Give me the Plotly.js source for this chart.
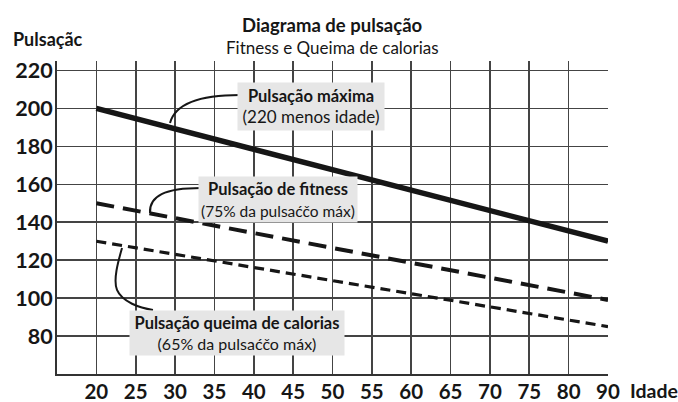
<!DOCTYPE html>
<html>
<head>
<meta charset="utf-8">
<script src="https://cdn.plot.ly/plotly-3.0.1.min.js"></script>
<style>
  html, body { margin: 0; padding: 0; background: #fff; }
  #chart { width: 678px; height: 402px; }
</style>
</head>
<body>
<div id="chart"></div>
<script>
// Age categories on the x axis (the last step jumps from 80 to 90)
const ages = ['20', '25', '30', '35', '40', '45', '50', '55', '60', '65', '70', '75', '80', '90'];
const pulseTicks = [80, 100, 120, 140, 160, 180, 200, 220];

// Each line runs from age 20 to age 90
const lineAges = ['20', '90'];
const maxPulse = [200, 130];
const fitnessPulse = [150, 99];
const burnPulse = [130, 85];

const INK = '#161616';
const FONT = 'Lato, "DejaVu Sans", sans-serif';

// plot box in pixels, used to place callouts and labels
const X0 = 57, X1 = 608, Y0 = 61, Y1 = 374;
const px = x => ((x - X0) / (X1 - X0)).toFixed(4);
const py = y => ((Y1 - y) / (Y1 - Y0)).toFixed(4);
const pt = (x, y) => `${px(x)},${py(y)}`;

const traces = [
    {
        type: 'scatter', mode: 'lines',
        x: lineAges, y: maxPulse,
        line: { color: INK, width: 5.5 },
        hoverinfo: 'skip'
    },
    {
        type: 'scatter', mode: 'lines',
        x: lineAges, y: fitnessPulse,
        line: { color: INK, width: 4, dash: '18px,9px' },
        hoverinfo: 'skip'
    },
    {
        type: 'scatter', mode: 'lines',
        x: lineAges, y: burnPulse,
        line: { color: INK, width: 3.2, dash: '10px,6px' },
        hoverinfo: 'skip'
    }
];

// curved leader lines from each line to its label box
const callout = path => ({
    type: 'path', xref: 'paper', yref: 'paper', path,
    line: { color: INK, width: 2 }
});

const shapes = [
    callout(`M ${pt(170, 123)} C ${pt(175, 104)} ${pt(200, 95)} ${pt(240, 95)}`),
    callout(`M ${pt(150, 213)} C ${pt(149, 196)} ${pt(165, 188)} ${pt(201, 188)}`),
    callout(`M ${pt(122, 248)} C ${pt(118, 262)} ${pt(113, 280)} ${pt(117, 290)} C ${pt(122, 302)} ${pt(140, 308)} ${pt(153, 310)}`)
];

const box = (cx, cy, w, h, head, sub, subSize) => ({
    xref: 'paper', yref: 'paper',
    x: px(cx), y: py(cy), xanchor: 'center', yanchor: 'middle',
    width: w, height: h, align: 'center', valign: 'middle',
    bgcolor: '#e6e6e6', borderpad: 0, showarrow: false,
    text: `<b>${head}</b><br><span style="font-size:${subSize}px">${sub}</span>`,
    font: { family: FONT, size: 16.5, color: INK }
});

const annotations = [
    box(311, 106, 146, 47, 'Pulsação máxima', '(220 menos idade)', 17),
    box(278, 199.5, 158, 45, 'Pulsação de fitness', '(75% da pulsaćčo máx)', 15.5),
    box(237, 333, 214, 44, 'Pulsação queima de calorias', '(65% da pulsaćčo máx)', 16),
    {
        xref: 'paper', yref: 'paper', x: px(332), y: py(25),
        xanchor: 'center', yanchor: 'middle', showarrow: false,
        text: '<b>Diagrama de pulsação</b>',
        font: { family: FONT, size: 18.5, color: INK }
    },
    {
        xref: 'paper', yref: 'paper', x: px(332), y: py(47),
        xanchor: 'center', yanchor: 'middle', showarrow: false,
        text: 'Fitness e Queima de calorias',
        font: { family: FONT, size: 17, color: INK }
    },
    {
        xref: 'paper', yref: 'paper', x: px(11), y: py(39),
        xanchor: 'left', yanchor: 'middle', showarrow: false,
        text: '<b>Pulsaçãc</b>',
        font: { family: FONT, size: 18, color: INK }
    },
    {
        xref: 'paper', yref: 'paper', x: px(628), y: py(391),
        xanchor: 'left', yanchor: 'middle', showarrow: false,
        text: '<b>Idade</b>',
        font: { family: FONT, size: 19.5, color: INK }
    }
];

const layout = {
    width: 678, height: 402,
    margin: { l: X0, r: 678 - X1, t: Y0, b: 402 - Y1 },
    paper_bgcolor: '#fff', plot_bgcolor: '#fff',
    showlegend: false,
    xaxis: {
        type: 'category',
        categoryorder: 'array', categoryarray: ages,
        tickvals: ages,
        range: [-1, ages.length - 1],
        showgrid: true, gridcolor: '#444', gridwidth: 1.6,
        showline: true, linecolor: '#333', linewidth: 2,
        zeroline: false, ticks: '',
        ticklabelstandoff: -2,
        tickfont: { family: FONT, size: 20.5, color: INK, weight: 'bold' },
        fixedrange: true
    },
    yaxis: {
        range: [60, 225],
        tickvals: pulseTicks,
        showgrid: true, gridcolor: '#444', gridwidth: 1.6,
        showline: true, linecolor: '#333', linewidth: 2,
        zeroline: false, ticks: '',
        ticklabelstandoff: -2,
        tickfont: { family: FONT, size: 21.5, color: INK, weight: 'bold' },
        fixedrange: true
    },
    shapes,
    annotations
};

Plotly.newPlot('chart', traces, layout, { staticPlot: true });
</script>
</body>
</html>
